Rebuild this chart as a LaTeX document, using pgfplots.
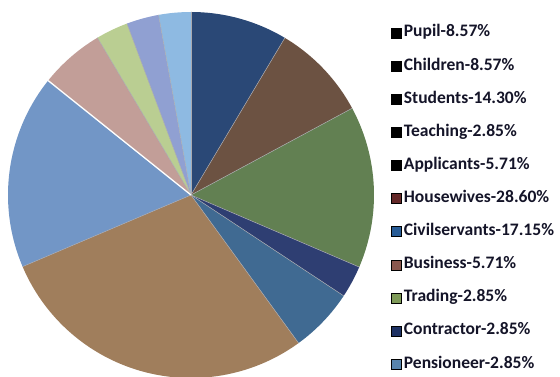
\documentclass[border=0pt]{standalone}
\usepackage{pgfplots}
\usepackage{pgfplotstable}
\pgfplotsset{compat=1.18}
\usepackage{fontspec}
\setmainfont{Carlito}

\definecolor{c0}{RGB}{42,72,118}
\definecolor{c1}{RGB}{108,82,66}
\definecolor{c2}{RGB}{98,128,82}
\definecolor{c3}{RGB}{46,62,114}
\definecolor{c4}{RGB}{64,106,146}
\definecolor{c5}{RGB}{160,126,92}
\definecolor{c6}{RGB}{114,150,198}
\definecolor{c7}{RGB}{194,158,152}
\definecolor{c8}{RGB}{186,206,146}
\definecolor{c9}{RGB}{144,160,210}
\definecolor{c10}{RGB}{142,186,226}
\definecolor{txt}{RGB}{20,20,40}
\definecolor{edge}{RGB}{170,170,175}

\pgfplotstableread{
label value
Pupil 8.57
Children 8.57
Students 14.30
Teaching 2.85
Applicants 5.71
Housewives 28.60
Civilservants 17.15
Business 5.71
Trading 2.85
Contractor 2.85
Pensioneer 2.85
}\piedata

\begin{document}
\begin{tikzpicture}
\begin{axis}[
  width=560bp, height=376bp, scale only axis,
  xmin=0, xmax=560, ymin=0, ymax=376,
  hide axis, clip=true,
  legend image code/.code={\fill[#1] (0bp,-5bp) rectangle (10bp,5bp);},
  legend style={at={(axis cs:390.5,351)}, anchor=north west, draw=none, fill=none,
    inner sep=0pt, outer sep=0pt, row sep=17.1bp, column sep=3bp,
    font=\bfseries\fontsize{17.6}{20}\selectfont, text=txt,
    nodes={inner sep=0pt, text height=12bp, text depth=4bp}},
  legend cell align=left,
]
\coordinate (ll) at (axis cs:0,0);
\coordinate (ur) at (axis cs:560,376);
\pgfplotstablegetrowsof{\piedata}
\pgfmathtruncatemacro\N{\pgfplotsretval-1}
\def\cum{90}
\pgfplotsforeachungrouped \i in {0,...,\N}{%
  \pgfplotstablegetelem{\i}{value}\of\piedata
  \pgfmathsetmacro\a{\cum}%
  \pgfmathsetmacro\b{\cum-3.6*\pgfplotsretval}%
  \edef\temp{\noexpand\fill[c\i] (axis cs:191,181) -- ++(\a:183bp) arc[start angle=\a, end angle=\b, radius=183bp] -- cycle;}%
  \temp
  \global\let\cum\b
}
\def\cum{90}
\pgfplotsforeachungrouped \i in {0,...,\N}{%
  \pgfplotstablegetelem{\i}{value}\of\piedata
  \pgfmathsetmacro\a{\cum}%
  \pgfmathsetmacro\b{\cum-3.6*\pgfplotsretval}%
  \edef\temp{\noexpand\draw[edge, line width=0.5bp] (axis cs:191,181) -- ++(\a:183bp);}%
  \temp
  \global\let\cum\b
}
\draw[white, line width=1.3bp] (axis cs:191,181) -- ++(141.31:183bp);
\addlegendimage{fill=black}
\addlegendentry{Pupil-8.57\%}
\addlegendimage{fill=black}
\addlegendentry{Children-8.57\%}
\addlegendimage{fill=black}
\addlegendentry{Students-14.30\%}
\addlegendimage{fill=black}
\addlegendentry{Teaching-2.85\%}
\addlegendimage{fill=black}
\addlegendentry{Applicants-5.71\%}
\addlegendimage{fill={rgb,255:red,100;green,40;blue,40}}
\addlegendentry{Housewives-28.60\%}
\addlegendimage{fill={rgb,255:red,40;green,92;blue,150}}
\addlegendentry{Civilservants-17.15\%}
\addlegendimage{fill={rgb,255:red,138;green,88;blue,78}}
\addlegendentry{Business-5.71\%}
\addlegendimage{fill={rgb,255:red,126;green,154;blue,88}}
\addlegendentry{Trading-2.85\%}
\addlegendimage{fill={rgb,255:red,30;green,50;blue,100}}
\addlegendentry{Contractor-2.85\%}
\addlegendimage{fill={rgb,255:red,88;green,132;blue,172}}
\addlegendentry{Pensioneer-2.85\%}
\end{axis}
\pgfresetboundingbox
\path (ll) rectangle (ur);
\end{tikzpicture}
\end{document}
